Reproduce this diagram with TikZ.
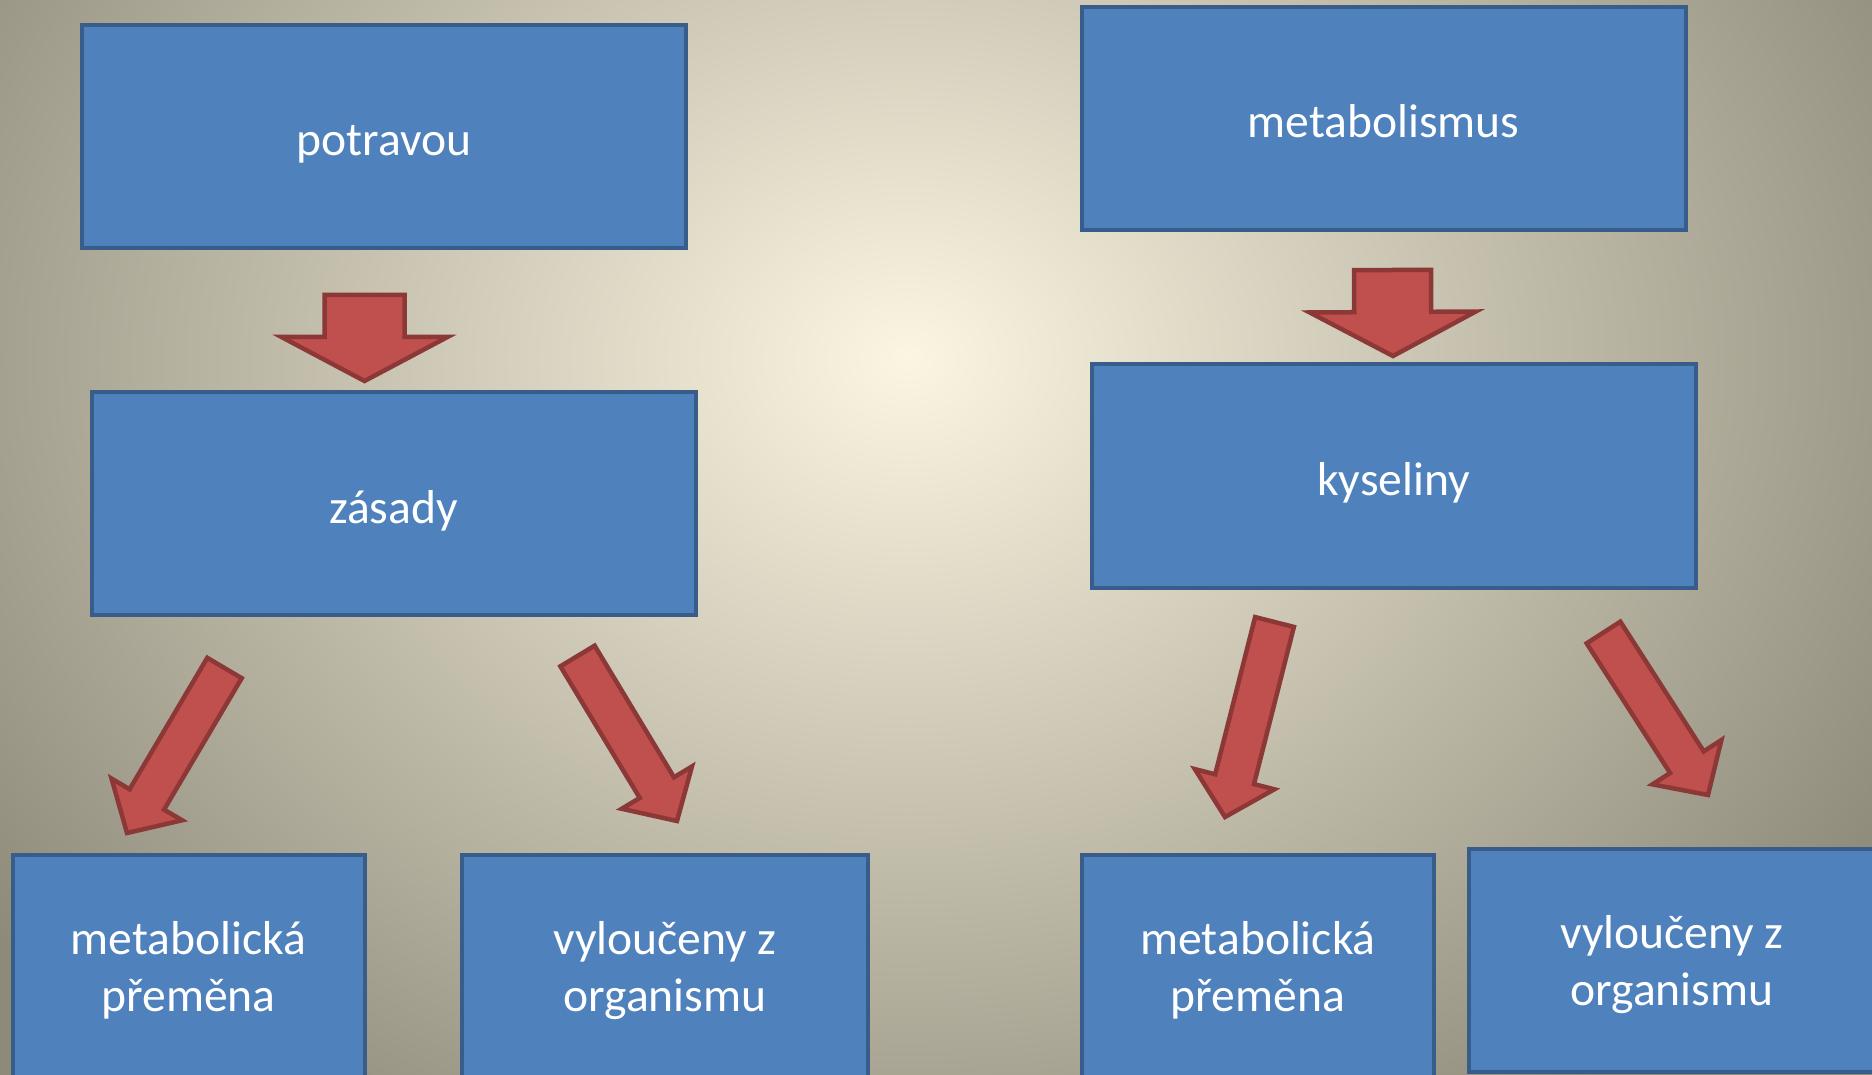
\documentclass[tikz,border=0pt]{standalone}
\usepackage{fontspec}
\setmainfont{Carlito}
\usetikzlibrary{calc}

\definecolor{bgin}{HTML}{FBF6E1}
\definecolor{bgout}{HTML}{8E8A7A}
\definecolor{boxfill}{HTML}{4F81BD}
\definecolor{boxline}{HTML}{385D8A}
\definecolor{arrfill}{HTML}{C0504D}
\definecolor{arrline}{HTML}{8C3836}

% block arrow: tail, tip, shaft half width, head half width, head length
\newcommand{\blockarrow}[5]{%
  \coordinate (hb) at ($(#2)!#5!(#1)$);
  \draw[blockarr] ($(#1)!#3!90:(#2)$) -- ($(hb)!#3!90:(#2)$)
    -- ($(hb)!#4!90:(#2)$) -- (#2) -- ($(hb)!#4!-90:(#2)$)
    -- ($(hb)!#3!-90:(#2)$) -- ($(#1)!#3!-90:(#2)$) -- cycle;}

\begin{document}
\begin{tikzpicture}[x=1pt,y=-1pt,
    box/.style={rectangle,fill=boxfill,draw=boxline,line width=4pt,
                minimum height=223pt,text=white,align=center,
                font=\fontsize{47.6}{57}\selectfont,
                execute at begin node={\rule[-12pt]{0pt}{63pt}}},
    twoline/.style={execute at begin node={\rule[-12pt]{0pt}{113pt}}},
    wide/.style={box,minimum width=604pt},
    narrow/.style={box,twoline,minimum width=352pt},
    mid/.style={box,twoline,minimum width=406pt},
    blockarr/.style={fill=arrfill,draw=arrline,line width=4.5pt,line join=miter}]

  \useasboundingbox (0,0) rectangle (1872,1075);
  \clip (0,0) rectangle (1872,1075);
  \shade[inner color=bgin,outer color=bgout] (-243,-592) rectangle (2057,1308);

  \node[wide]   (potravou) at (384,136.5)   {potravou};
  \node[wide]   (zasady)   at (393.5,503.5) {zásady};
  \node[wide]   (metab)    at (1383.5,118.5) {metabolismus};
  \node[wide]   (kyseliny) at (1393.5,476)  {kyseliny};
  \node[narrow] (premL)    at (188.5,966.5) {metabolická\\přeměna};
  \node[mid]    (vylL)     at (665,966.5)   {vyloučeny z\\organismu};
  \node[narrow] (premR)    at (1258,966.5)  {metabolická\\přeměna};
  \node[mid]    (vylR)     at (1672,960.5)  {vyloučeny z\\organismu};

  % arrow ends
  \coordinate (t1) at (364.5,295);  \coordinate (p1) at (364.5,381);
  \coordinate (t2) at (1392.5,270); \coordinate (p2) at (1393,356);
  \coordinate (t3) at (224.5,668);  \coordinate (p3) at (127,833);
  \coordinate (t4) at (577.5,656);  \coordinate (p4) at (677,821);
  \coordinate (t5) at (1274.5,622); \coordinate (p5) at (1225,817);
  \coordinate (t6) at (1603.5,632.5); \coordinate (p6) at (1708,795);

  \blockarrow{t1}{p1}{40pt}{83pt}{44pt}
  \blockarrow{t2}{p2}{38.5pt}{83pt}{44pt}
  \blockarrow{t3}{p3}{20pt}{41pt}{39pt}
  \blockarrow{t4}{p4}{20pt}{41pt}{39pt}
  \blockarrow{t5}{p5}{20pt}{41pt}{39pt}
  \blockarrow{t6}{p6}{20pt}{41pt}{39pt}
\end{tikzpicture}
\end{document}
